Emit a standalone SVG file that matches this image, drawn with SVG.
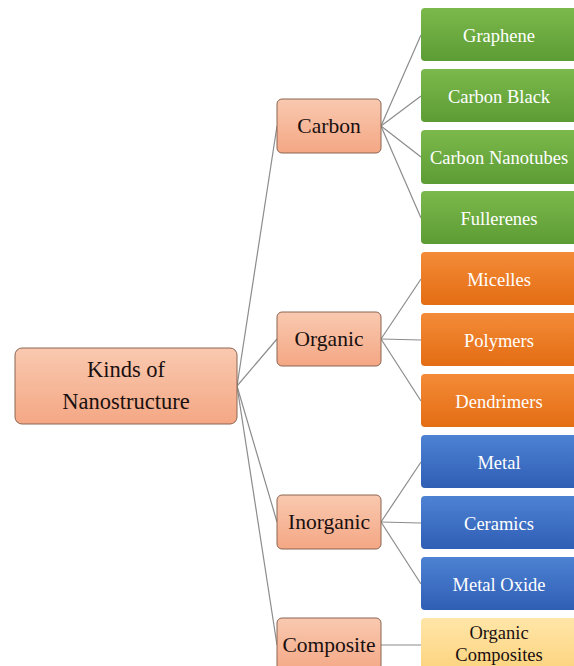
<svg xmlns="http://www.w3.org/2000/svg" width="574" height="666" viewBox="0 0 574 666">
<defs>
<linearGradient id="gs" x1="0" y1="0" x2="0" y2="1"><stop offset="0" stop-color="#f9c9b0"/><stop offset="1" stop-color="#f4a784"/></linearGradient>
<linearGradient id="gg" x1="0" y1="0" x2="0" y2="1"><stop offset="0" stop-color="#7cb94c"/><stop offset="1" stop-color="#5c9c34"/></linearGradient>
<linearGradient id="go" x1="0" y1="0" x2="0" y2="1"><stop offset="0" stop-color="#f48b38"/><stop offset="1" stop-color="#e36d13"/></linearGradient>
<linearGradient id="gb" x1="0" y1="0" x2="0" y2="1"><stop offset="0" stop-color="#4d82d3"/><stop offset="1" stop-color="#2f5eb5"/></linearGradient>
<linearGradient id="gy" x1="0" y1="0" x2="0" y2="1"><stop offset="0" stop-color="#ffe6a8"/><stop offset="1" stop-color="#fcd27c"/></linearGradient>
</defs>
<style>
.cat{fill:url(#gs);stroke:#8a6452;stroke-width:1}
.g{fill:url(#gg)}
.o{fill:url(#go)}
.b{fill:url(#gb)}
.y{fill:url(#gy)}
.con line{stroke:#8c8c8c;stroke-width:1.2}
</style>
<g class="con">
<line x1="237" y1="386" x2="277" y2="126"/>
<line x1="237" y1="386" x2="277" y2="339"/>
<line x1="237" y1="386" x2="277" y2="522"/>
<line x1="237" y1="386" x2="277" y2="645"/>
<line x1="381" y1="126" x2="421" y2="35"/>
<line x1="381" y1="126" x2="421" y2="96"/>
<line x1="381" y1="126" x2="421" y2="157"/>
<line x1="381" y1="126" x2="421" y2="218"/>
<line x1="381" y1="339" x2="421" y2="279"/>
<line x1="381" y1="339" x2="421" y2="340"/>
<line x1="381" y1="339" x2="421" y2="401"/>
<line x1="381" y1="522" x2="421" y2="462"/>
<line x1="381" y1="522" x2="421" y2="523"/>
<line x1="381" y1="522" x2="421" y2="584"/>
<line x1="381" y1="645" x2="421" y2="645"/>
</g>
<g font-family="Liberation Serif" text-anchor="middle">
<g id="root"><rect class="cat" x="15" y="348" width="222" height="76" rx="7"/><text x="126" y="377" font-size="22.5" fill="#1a1010">Kinds of</text><text x="126" y="409" font-size="22.5" fill="#1a1010">Nanostructure</text></g>
<g font-size="21.5" fill="#1a1010">
<g id="carbon"><rect class="cat" x="277" y="99" width="104" height="54" rx="5"/><text x="329" y="133">Carbon</text></g>
<g id="organic"><rect class="cat" x="277" y="312" width="104" height="54" rx="5"/><text x="329" y="346">Organic</text></g>
<g id="inorganic"><rect class="cat" x="277" y="495" width="104" height="54" rx="5"/><text x="329" y="529">Inorganic</text></g>
<g id="composite"><rect class="cat" x="277" y="618" width="104" height="56" rx="5"/><text x="329" y="652">Composite</text></g>
</g>
<g font-size="18.5" fill="#ffffff">
<g id="graphene"><rect class="g" x="421" y="8" width="156" height="53" rx="4"/><text x="499" y="42">Graphene</text></g>
<g id="carbonblack"><rect class="g" x="421" y="69" width="156" height="53" rx="4"/><text x="499" y="103">Carbon Black</text></g>
<g id="nanotubes"><rect class="g" x="421" y="130" width="156" height="54" rx="4"/><text x="499" y="164">Carbon Nanotubes</text></g>
<g id="fullerenes"><rect class="g" x="421" y="191" width="156" height="53" rx="4"/><text x="499" y="225">Fullerenes</text></g>
<g id="micelles"><rect class="o" x="421" y="252" width="156" height="53" rx="4"/><text x="499" y="286">Micelles</text></g>
<g id="polymers"><rect class="o" x="421" y="313" width="156" height="53" rx="4"/><text x="499" y="347">Polymers</text></g>
<g id="dendrimers"><rect class="o" x="421" y="374" width="156" height="53" rx="4"/><text x="499" y="408">Dendrimers</text></g>
<g id="metal"><rect class="b" x="421" y="435" width="156" height="53" rx="4"/><text x="499" y="469">Metal</text></g>
<g id="ceramics"><rect class="b" x="421" y="496" width="156" height="53" rx="4"/><text x="499" y="530">Ceramics</text></g>
<g id="metaloxide"><rect class="b" x="421" y="557" width="156" height="53" rx="4"/><text x="499" y="591">Metal Oxide</text></g>
</g>
<g id="orgcomp" font-size="18.5" fill="#1a1010"><rect class="y" x="421" y="618" width="156" height="56" rx="4"/><text x="499" y="639">Organic</text><text x="499" y="661">Composites</text></g>
</g>
</svg>
